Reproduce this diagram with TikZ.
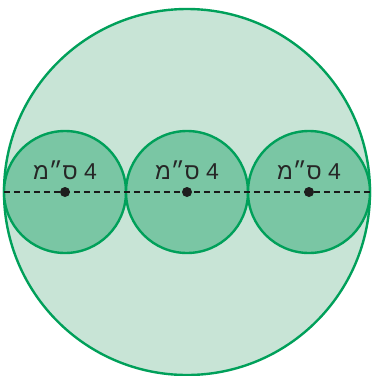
\documentclass[tikz,border=0pt]{standalone}
\usepackage{fontspec}
\newfontfamily\hebfont[Script=Hebrew]{Liberation Sans}
\TeXXeTstate=1
\definecolor{gline}{RGB}{0,160,90}
\definecolor{gbig}{RGB}{200,228,214}
\definecolor{gsmall}{RGB}{122,198,164}
\definecolor{dotc}{RGB}{30,30,30}
\begin{document}
\begin{tikzpicture}[x=1pt,y=-1pt,
  bigc/.style={circle,draw=gline,fill=gbig,line width=2.4pt,inner sep=0pt,outer sep=0pt,minimum size=366pt},
  smallc/.style={circle,draw=gline,fill=gsmall,line width=2.4pt,inner sep=0pt,outer sep=0pt,minimum size=122pt},
  cdot/.style={circle,fill=dotc,inner sep=0pt,minimum size=10pt},
  lbl/.style={font=\hebfont\fontsize{23}{26}\selectfont,text=black!85,inner sep=0pt},
  diam/.style={draw=black!90,line width=1.4pt,dash pattern=on 6pt off 4pt}]
\useasboundingbox (0,0) rectangle (372,376);
\node[bigc] (big) at (187,192) {};
\node[smallc] (c1) at (65,192) {};
\node[smallc] (c2) at (187,192) {};
\node[smallc] (c3) at (309,192) {};
\draw[diam] (big.west) -- (big.east);
\node[cdot] (d1) at (c1.center) {};
\node[cdot] (d2) at (c2.center) {};
\node[cdot] (d3) at (c3.center) {};
\node[lbl] (t1) at (65,170) {\beginR 4 ס״מ\endR};
\node[lbl] (t2) at (187,170) {\beginR 4 ס״מ\endR};
\node[lbl] (t3) at (309,170) {\beginR 4 ס״מ\endR};
\end{tikzpicture}
\end{document}
